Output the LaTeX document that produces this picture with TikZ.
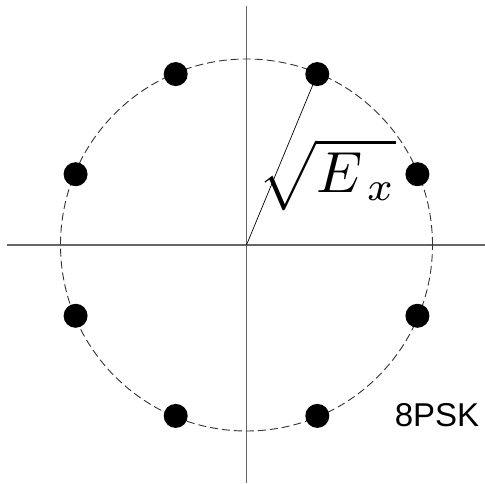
\documentclass[tikz,border=0pt]{standalone}
\usepackage{fontspec}
\newfontfamily\arialfont{Liberation Sans}
\begin{document}
\begin{tikzpicture}[x=1pt,y=1pt,
  axis/.style={draw=black!60,line width=1.3pt},
  ring/.style={draw=black!80,line width=0.9pt,dash pattern=on 8pt off 4pt},
  dot/.style={circle,fill=black,inner sep=0pt,minimum size=24pt},
  spoke/.style={draw=black,line width=0.7pt}]
\useasboundingbox (0,0) rectangle (485,484);
\coordinate (O) at (246.5,239);
\coordinate (xl) at (7,239);
\coordinate (xr) at (485,239);
\coordinate (yt) at (246.5,478);
\coordinate (yb) at (246.5,1);
\draw[axis] (xl) -- (xr);
\draw[axis] (yb) -- (yt);
\draw[ring] (O) circle[radius=186];
\foreach \a/\n in {22.5/p1,67.5/p2,112.5/p3,157.5/p4,202.5/p5,247.5/p6,292.5/p7,337.5/p8}
  \path (O) ++(\a:185) node[dot] (\n) {};
\draw[spoke] (O) -- (p2.center);
\node[scale=5.8,inner sep=0pt] (lab) at (327,309) {$\sqrt{\rule[-2.6pt]{0pt}{9.8pt}E_{\,x}}$};
\node[font=\arialfont\fontsize{33}{36}\selectfont] (psk) at (437,69) {8PSK};
\end{tikzpicture}
\end{document}
